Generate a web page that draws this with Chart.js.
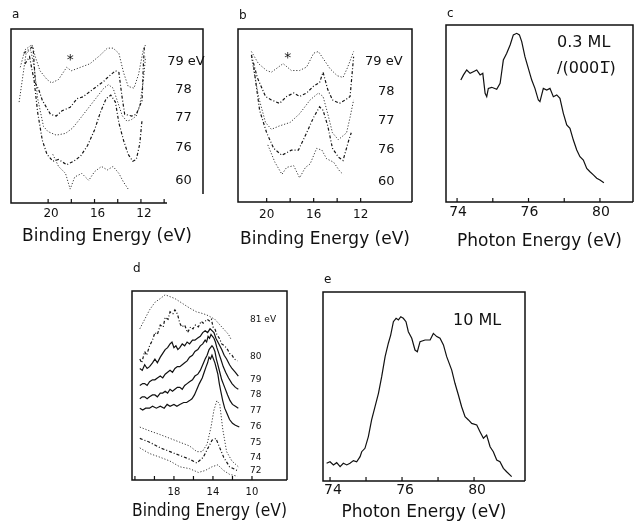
<!DOCTYPE html>
<html>
<head>
<meta charset="utf-8">
<script src="https://cdn.jsdelivr.net/npm/chart.js@4.4.0/dist/chart.umd.min.js"></script>
<style>
    body { margin: 0; background: #fff; }
    #figure { position: relative; width: 634px; height: 527px; overflow: hidden; }
    #figure canvas { position: absolute; }
</style>
</head>
<body>
<div id="figure">
    <canvas id="panelA"></canvas>
    <canvas id="panelB"></canvas>
    <canvas id="panelC"></canvas>
    <canvas id="panelD"></canvas>
    <canvas id="panelE"></canvas>
</div>
<script>
// Spectra: [binding or photon energy (eV), intensity (arb. units)]

// a - binding energy spectra at several photon energies
const specA79 = [[22.4,78],[22.0,88],[21.4,91],[21.1,84],[20.7,76],[20.1,71],[19.7,69],[19.1,71],[18.4,78],[18.0,76],[17.2,78],[16.4,80],[15.5,85],[14.9,89],[14.4,89],[13.9,86],[13.5,75],[13.1,67],[12.6,66],[12.2,74],[11.8,88],[11.6,91]];
const specA78 = [[22.1,86],[21.3,90],[21.1,69],[20.8,65],[20.5,59],[19.8,51],[19.3,50],[18.8,53],[18.1,55],[17.5,60],[17.0,61],[16.4,64],[15.8,67],[15.2,70],[14.9,72],[14.2,76],[13.9,75],[13.65,62],[13.4,51],[12.8,50],[12.4,51],[11.9,59],[11.8,78],[11.7,90]];
const specA77 = [[22.5,58],[21.9,86],[21.5,88],[21.2,78],[20.9,60],[20.4,44],[20.0,41],[19.3,39],[18.5,40],[17.9,43],[17.3,48],[16.6,54],[15.9,60],[15.2,66],[14.8,68],[14.4,66],[14.0,58],[13.6,50],[13.2,47],[12.8,48],[12.4,50],[12.1,56],[11.8,70],[11.6,84]];
const specA76 = [[22.0,80],[21.6,84],[21.2,70],[20.9,52],[20.5,36],[20.1,28],[19.6,24],[19.1,25],[18.4,22],[17.8,24],[17.2,27],[16.6,33],[16.0,42],[15.5,52],[15.0,60],[14.6,62],[14.2,58],[13.9,46],[13.5,36],[13.1,28],[12.7,24],[12.4,25],[12.1,34],[11.9,48]];
const specA60 = [[19.6,28],[19.1,21],[18.5,17],[18.1,8],[17.7,15],[17.1,17],[16.5,13],[16.0,18],[15.4,21],[14.9,19],[14.4,21],[13.9,17],[13.5,12],[13.1,8]];
const labelsA = ['79 eV', '78', '77', '76', '60'];

// b - same photon energies, second surface
const specB79 = [[21.3,87],[20.7,80],[20.0,76],[19.6,75],[19.2,77],[18.6,80],[17.9,76],[17.2,76],[16.6,78],[16.0,86],[15.6,87],[15.2,83],[14.6,77],[14.0,73],[13.5,72],[13.1,78],[12.6,87]];
const specB78 = [[21.3,85],[20.8,72],[20.1,61],[19.6,59],[18.9,57],[18.3,61],[17.7,63],[17.2,61],[16.6,63],[16.0,67],[15.5,69],[15.2,75],[14.8,65],[14.4,59],[13.8,57],[13.3,59],[12.9,61],[12.6,84]];
const specB77 = [[21.3,84],[20.7,61],[20.1,46],[19.6,42],[18.9,44],[18.0,46],[17.2,51],[16.3,59],[15.6,63],[15.2,61],[14.8,51],[14.4,40],[13.9,36],[13.2,40],[12.9,49],[12.6,59]];
const specB76 = [[21.1,78],[20.6,53],[20.0,40],[19.4,31],[18.7,27],[17.9,30],[17.3,30],[16.6,40],[16.0,49],[15.5,55],[15.2,53],[14.8,44],[14.4,31],[13.9,26],[13.5,24],[13.0,36],[12.8,40]];
const specB60 = [[19.9,33],[19.3,23],[18.7,16],[18.3,20],[17.7,21],[17.2,14],[16.7,20],[16.3,22],[15.75,31],[15.3,30],[14.9,25],[14.3,23],[13.8,18],[13.5,16]];
const labelsB = ['79 eV', '78', '77', '76', '60'];

// c - 0.3 ML intensity vs photon energy
const yieldC = [[72.21,68.9],[72.36,71.8],[72.54,74.6],[72.73,72.7],[72.91,73.6],[73.10,74.6],[73.29,71.8],[73.44,72.7],[73.57,61.4],[73.66,59.5],[73.75,64.2],[73.94,64.8],[74.22,63.7],[74.41,67.1],[74.50,73.6],[74.59,80.2],[74.78,84.0],[74.97,88.7],[75.15,94.4],[75.34,95.3],[75.49,94.4],[75.62,90.6],[75.80,82.1],[75.99,75.5],[76.18,68.9],[76.36,64.2],[76.55,57.6],[76.64,56.7],[76.83,64.2],[77.02,63.3],[77.20,64.2],[77.39,59.5],[77.58,60.5],[77.76,58.6],[77.95,50.1],[78.14,43.5],[78.32,41.6],[78.51,35.0],[78.70,29.4],[78.88,25.6],[79.07,23.7],[79.26,19.0],[79.44,17.1],[79.63,15.3],[79.82,13.4],[80.00,12.4],[80.22,10.9]];
const labelsC = ['0.3 ML', '/(000' + '1\u0305' + ')'];

// d - 10 ML binding energy spectra
const specD81 = [[21.5,80],[21.0,85],[20.5,90],[19.95,94],[19.4,96],[18.9,98],[18.4,97],[17.9,96],[17.0,93],[16.4,91],[15.7,89],[15.0,88],[14.5,87],[13.8,85],[13.1,81],[12.4,77],[12.1,74]];
const specD80 = [[21.5,64],[21.3,62],[21.0,68],[20.8,66],[20.5,71],[20.2,74],[19.95,78],[19.7,77],[19.4,82],[19.1,81],[18.9,86],[18.6,85],[18.4,89],[18.1,88],[17.9,90],[17.75,89],[17.6,87],[17.4,83],[17.2,81],[16.9,82],[16.6,78],[16.3,81],[16.05,80],[15.8,82],[15.5,81],[15.2,84],[15.0,83],[14.6,85],[14.3,84],[14.15,85],[14.0,81],[13.8,80],[13.6,77],[13.35,75],[13.1,72],[12.8,71],[12.5,69],[12.3,67],[12.05,66],[11.8,64],[11.5,63]];
const specD79 = [[21.5,59],[21.25,58],[21.0,61],[20.75,59],[20.5,60],[20.2,62],[19.95,64],[19.7,62],[19.4,65],[19.15,67],[18.9,69],[18.65,70],[18.4,72],[18.2,73],[18.0,70],[17.8,71],[17.6,69],[17.4,70],[17.15,72],[16.9,71],[16.65,73],[16.4,72],[16.1,74],[15.85,74],[15.6,75],[15.3,76],[15.05,78],[14.8,79],[14.55,78],[14.3,80],[14.1,79],[13.9,78],[13.7,75],[13.5,73],[13.3,71],[13.1,69],[12.85,66],[12.6,64],[12.3,61],[12.05,59],[11.7,57],[11.4,55]];
const specD78 = [[21.5,50],[21.2,51],[21.0,51],[20.75,50],[20.5,52],[20.2,53],[19.95,53],[19.7,54],[19.4,55],[19.15,54],[18.9,56],[18.65,57],[18.4,58],[18.15,57],[17.9,59],[17.65,60],[17.4,60],[17.15,61],[16.9,62],[16.65,63],[16.4,65],[16.1,66],[15.85,68],[15.55,69],[15.3,71],[15.05,72],[14.8,74],[14.65,73],[14.5,76],[14.35,75],[14.2,77],[14.05,76],[13.9,75],[13.75,73],[13.6,70],[13.4,67],[13.2,64],[12.95,60],[12.7,57],[12.4,54],[12.05,51],[11.7,49],[11.4,48]];
const specD77 = [[21.5,43],[21.25,44],[21.0,44],[20.75,43],[20.5,44],[20.2,45],[19.95,45],[19.7,44],[19.4,46],[19.15,46],[18.9,47],[18.65,46],[18.4,48],[18.15,47],[17.9,48],[17.65,49],[17.4,49],[17.15,48],[16.9,50],[16.65,51],[16.4,52],[16.1,53],[15.85,55],[15.55,56],[15.3,58],[15.05,61],[14.8,64],[14.6,66],[14.4,69],[14.25,70],[14.1,71],[13.95,70],[13.8,68],[13.65,64],[13.5,61],[13.3,57],[13.1,53],[12.8,49],[12.5,45],[12.25,42],[12.0,40],[11.7,39],[11.4,38]];
const specD76 = [[21.5,38],[21.2,37],[20.9,38],[20.5,38],[20.2,39],[19.8,38],[19.4,39],[19.0,38],[18.7,40],[18.4,39],[18.0,40],[17.7,39],[17.4,40],[17.0,41],[16.7,41],[16.4,42],[16.15,43],[15.9,45],[15.65,48],[15.4,51],[15.1,54],[14.9,57],[14.7,60],[14.55,62],[14.4,65],[14.25,64],[14.1,66],[13.95,64],[13.8,62],[13.65,59],[13.5,56],[13.35,51],[13.2,47],[13.0,42],[12.8,38],[12.55,35],[12.3,32],[12.0,30],[11.7,29],[11.3,28]];
const specD75 = [[21.5,28],[20.5,26],[19.4,24],[18.4,22],[17.4,20],[16.4,18],[15.65,15],[15.1,15],[14.6,19],[14.2,28],[13.9,37],[13.6,42],[13.3,40],[13.0,27],[12.6,15],[12.05,10],[11.4,7]];
const specD74 = [[21.5,22],[20.5,20],[19.4,17],[18.4,15],[17.4,13],[16.4,11],[15.65,9],[15.0,12],[14.5,17],[14.1,21],[13.7,22],[13.3,17],[12.9,12],[12.3,7],[11.5,5]];
const specD72 = [[21.5,17],[20.5,14],[19.4,12],[18.4,10],[17.4,7],[16.4,6],[15.5,4],[14.8,5],[14.1,7],[13.5,8],[12.9,5],[12.3,3],[11.5,2]];
const labelsD = ['81 eV', '80', '79', '78', '77', '76', '75', '74', '72'];

// e - 10 ML intensity vs photon energy
const yieldE = [[71.81,9.4],[72.0,10.2],[72.19,8.5],[72.37,9.7],[72.56,7.6],[72.74,9.4],[72.93,8.5],[73.11,9.4],[73.30,10.8],[73.48,10.2],[73.67,12.9],[73.76,15.5],[73.94,17.3],[74.13,23.5],[74.31,32.3],[74.50,39.3],[74.69,46.4],[74.87,55.2],[75.06,65.8],[75.24,72.9],[75.37,77.2],[75.52,84.3],[75.67,86.1],[75.80,85.2],[75.93,86.9],[76.07,86.1],[76.22,84.3],[76.35,79.0],[76.54,75.5],[76.72,69.3],[76.85,68.4],[77.0,73.7],[77.28,74.6],[77.56,74.6],[77.74,78.1],[77.93,76.4],[78.11,75.5],[78.30,72.0],[78.48,65.8],[78.76,58.7],[78.94,51.7],[79.13,45.5],[79.31,39.3],[79.50,34.0],[79.69,32.3],[79.87,30.5],[80.15,29.6],[80.33,26.1],[80.52,22.6],[80.70,24.3],[80.89,18.1],[81.07,15.5],[81.26,11.1],[81.44,10.2],[81.63,6.7],[81.81,4.9],[82.09,2.3]];
const labelsE = ['10 ML'];

// axis ticks
const ticksBE = [20, 18, 16, 14, 12, 10];
const tickLabelsBE = ['20', '', '16', '', '12', ''];
const ticksD = [22, 20, 18, 16, 14, 12, 10];
const tickLabelsD = ['', '', '18', '', '14', '', '10'];
const ticksPE = [72, 74, 76, 78, 80];
const tickLabelsPE = ['74', '', '76', '', '80'];

const FONT = '"DejaVu Sans", sans-serif';
const INK = '#111';

const DOTTED = { color: '#3a3a3a', width: 1, dash: [1.2, 1.8] };
const DASHDOT = { color: '#151515', width: 1.2, dash: [3, 2, 1, 2] };
const SOLID = { color: INK, width: 1.2, dash: [] };

// frame (optionally open at the lower right), inward tick marks,
// panel letter and in-plot labels
const panelDecor = {
    id: 'panelDecor',
    afterDatasetsDraw(chart, args, opts) {
        const { ctx, chartArea: area, scales: { x, y } } = chart;
        const gapB = opts.gapBottom || 0;
        const gapR = opts.gapRight || 0;
        ctx.save();
        ctx.strokeStyle = INK;
        ctx.lineWidth = 1.5;
        ctx.beginPath();
        ctx.moveTo(area.right - gapB, area.bottom);
        ctx.lineTo(area.left, area.bottom);
        ctx.lineTo(area.left, area.top);
        ctx.lineTo(area.right, area.top);
        ctx.lineTo(area.right, area.bottom - gapR);
        ctx.stroke();

        ctx.lineWidth = 1.2;
        x.ticks.forEach(t => {
            const px = x.getPixelForValue(t.value);
            ctx.beginPath();
            ctx.moveTo(px, area.bottom);
            ctx.lineTo(px, area.bottom - 4);
            ctx.stroke();
        });

        ctx.fillStyle = INK;
        ctx.textAlign = 'left';
        ctx.textBaseline = 'alphabetic';
        ctx.font = `12px ${FONT}`;
        ctx.fillText(opts.letter, area.left + 1, area.top - opts.letterDy);

        ctx.textBaseline = 'middle';
        opts.notes.forEach(n => {
            ctx.font = `${n.size}px ${FONT}`;
            ctx.fillText(n.text, x.getPixelForValue(n.x), y.getPixelForValue(n.y));
        });
        ctx.restore();
    }
};

function makePanel(p) {
    const canvas = document.getElementById(p.id);
    const [left, top, right, bottom] = p.box;
    canvas.width = p.padL + (right - left) + p.padR;
    canvas.height = p.padT + (bottom - top) + p.axisH;
    canvas.style.left = (left - p.padL) + 'px';
    canvas.style.top = (top - p.padT) + 'px';

    return new Chart(canvas, {
        type: 'line',
        data: {
            datasets: p.series.map(s => ({
                data: s.points.map(([x, y]) => ({ x, y })),
                borderColor: s.style.color,
                borderWidth: s.style.width,
                borderDash: s.style.dash,
                pointRadius: 0,
                tension: 0,
                fill: false
            }))
        },
        options: {
            responsive: false,
            animation: false,
            devicePixelRatio: 1,
            layout: { padding: { left: p.padL, right: p.padR, top: p.padT, bottom: 0 } },
            plugins: {
                legend: { display: false },
                tooltip: { enabled: false },
                panelDecor: {
                    letter: p.letter,
                    letterDy: p.letterDy,
                    notes: p.notes,
                    gapBottom: p.gapBottom,
                    gapRight: p.gapRight
                }
            },
            scales: {
                x: {
                    type: 'linear',
                    reverse: p.reverse,
                    min: p.xMin,
                    max: p.xMax,
                    grid: { display: false, drawTicks: false },
                    border: { display: false },
                    afterBuildTicks: scale => { scale.ticks = p.ticks.map(v => ({ value: v })); },
                    afterFit: scale => { scale.height = p.axisH; },
                    ticks: {
                        autoSkip: false,
                        maxRotation: 0,
                        padding: p.tickPad,
                        labelOffset: p.labelOffset,
                        color: INK,
                        font: { family: FONT, size: p.tickSize },
                        callback: (value, index) => p.tickLabels[index]
                    },
                    title: {
                        display: true,
                        text: p.title,
                        color: INK,
                        font: { family: FONT, size: 17 },
                        padding: { top: 0, bottom: p.titlePad }
                    }
                },
                y: { display: false, min: 0, max: 100 }
            }
        },
        plugins: [panelDecor]
    });
}

makePanel({
    id: 'panelA', box: [11, 29, 203, 203], padL: 8, padR: 8, padT: 22, axisH: 47,
    reverse: true, xMin: 6.65, xMax: 23.2, gapBottom: 36, gapRight: 9,
    ticks: ticksBE, tickLabels: tickLabelsBE, tickSize: 12, tickPad: 4, labelOffset: 3,
    title: 'Binding Energy (eV)', titlePad: 3, letter: 'a', letterDy: 11,
    series: [
        { points: specA79, style: DOTTED },
        { points: specA78, style: DASHDOT },
        { points: specA77, style: DOTTED },
        { points: specA76, style: DASHDOT },
        { points: specA60, style: DOTTED }
    ],
    notes: [
        { text: labelsA[0], x: 9.74, y: 81, size: 13 },
        { text: labelsA[1], x: 9.05, y: 65, size: 13 },
        { text: labelsA[2], x: 9.05, y: 49, size: 13 },
        { text: labelsA[3], x: 9.05, y: 32, size: 13 },
        { text: labelsA[4], x: 9.05, y: 13, size: 13 },
        { text: '*', x: 18.4, y: 82, size: 14 }
    ]
});

makePanel({
    id: 'panelB', box: [238, 29, 412, 202], padL: 8, padR: 8, padT: 22, axisH: 51,
    reverse: true, xMin: 7.63, xMax: 22.44,
    ticks: ticksBE.slice(0, 5), tickLabels: tickLabelsBE, tickSize: 12, tickPad: 6, labelOffset: 0,
    title: 'Binding Energy (eV)', titlePad: 3, letter: 'b', letterDy: 10,
    series: [
        { points: specB79, style: DOTTED },
        { points: specB78, style: DASHDOT },
        { points: specB77, style: DOTTED },
        { points: specB76, style: DASHDOT },
        { points: specB60, style: DOTTED }
    ],
    notes: [
        { text: labelsB[0], x: 11.63, y: 81, size: 13 },
        { text: labelsB[1], x: 10.53, y: 64, size: 13 },
        { text: labelsB[2], x: 10.53, y: 47, size: 13 },
        { text: labelsB[3], x: 10.53, y: 30, size: 13 },
        { text: labelsB[4], x: 10.53, y: 12, size: 13 },
        { text: '*', x: 18.5, y: 83, size: 14 }
    ]
});

makePanel({
    id: 'panelC', box: [446, 25, 633, 202], padL: 8, padR: 1, padT: 22, axisH: 53,
    reverse: false, xMin: 71.38, xMax: 81.85,
    ticks: ticksPE, tickLabels: tickLabelsPE, tickSize: 14, tickPad: 2, labelOffset: 1,
    title: 'Photon Energy (eV)', titlePad: 3, letter: 'c', letterDy: 8,
    series: [{ points: yieldC, style: SOLID }],
    notes: [
        { text: labelsC[0], x: 77.6, y: 90, size: 16 },
        { text: labelsC[1], x: 77.6, y: 75, size: 16 }
    ]
});

makePanel({
    id: 'panelD', box: [132, 291, 287, 480], padL: 8, padR: 8, padT: 32, axisH: 45,
    reverse: true, xMin: 6.41, xMax: 22.3,
    ticks: ticksD, tickLabels: tickLabelsD, tickSize: 10, tickPad: 6, labelOffset: 0,
    title: 'Binding Energy (eV)', titlePad: 3, letter: 'd', letterDy: 19,
    series: [
        { points: specD81, style: DOTTED },
        { points: specD80, style: DASHDOT },
        { points: specD79, style: SOLID },
        { points: specD78, style: SOLID },
        { points: specD77, style: SOLID },
        { points: specD76, style: SOLID },
        { points: specD75, style: DOTTED },
        { points: specD74, style: DASHDOT },
        { points: specD72, style: DOTTED }
    ],
    notes: [
        { text: labelsD[0], x: 10.2, y: 85, size: 9 },
        { text: labelsD[1], x: 10.2, y: 65, size: 9 },
        { text: labelsD[2], x: 10.2, y: 53, size: 9 },
        { text: labelsD[3], x: 10.2, y: 45, size: 9 },
        { text: labelsD[4], x: 10.2, y: 36.5, size: 9 },
        { text: labelsD[5], x: 10.2, y: 28, size: 9 },
        { text: labelsD[6], x: 10.2, y: 19.5, size: 9 },
        { text: labelsD[7], x: 10.2, y: 12, size: 9 },
        { text: labelsD[8], x: 10.2, y: 5, size: 9 }
    ]
});

makePanel({
    id: 'panelE', box: [323, 292, 525, 481], padL: 8, padR: 8, padT: 22, axisH: 45,
    reverse: false, xMin: 71.61, xMax: 82.83,
    ticks: ticksPE, tickLabels: tickLabelsPE, tickSize: 14, tickPad: 1, labelOffset: 3,
    title: 'Photon Energy (eV)', titlePad: 3, letter: 'e', letterDy: 9,
    series: [{ points: yieldE, style: SOLID }],
    notes: [
        { text: labelsE[0], x: 78.83, y: 85, size: 16 }
    ]
});
</script>
</body>
</html>
